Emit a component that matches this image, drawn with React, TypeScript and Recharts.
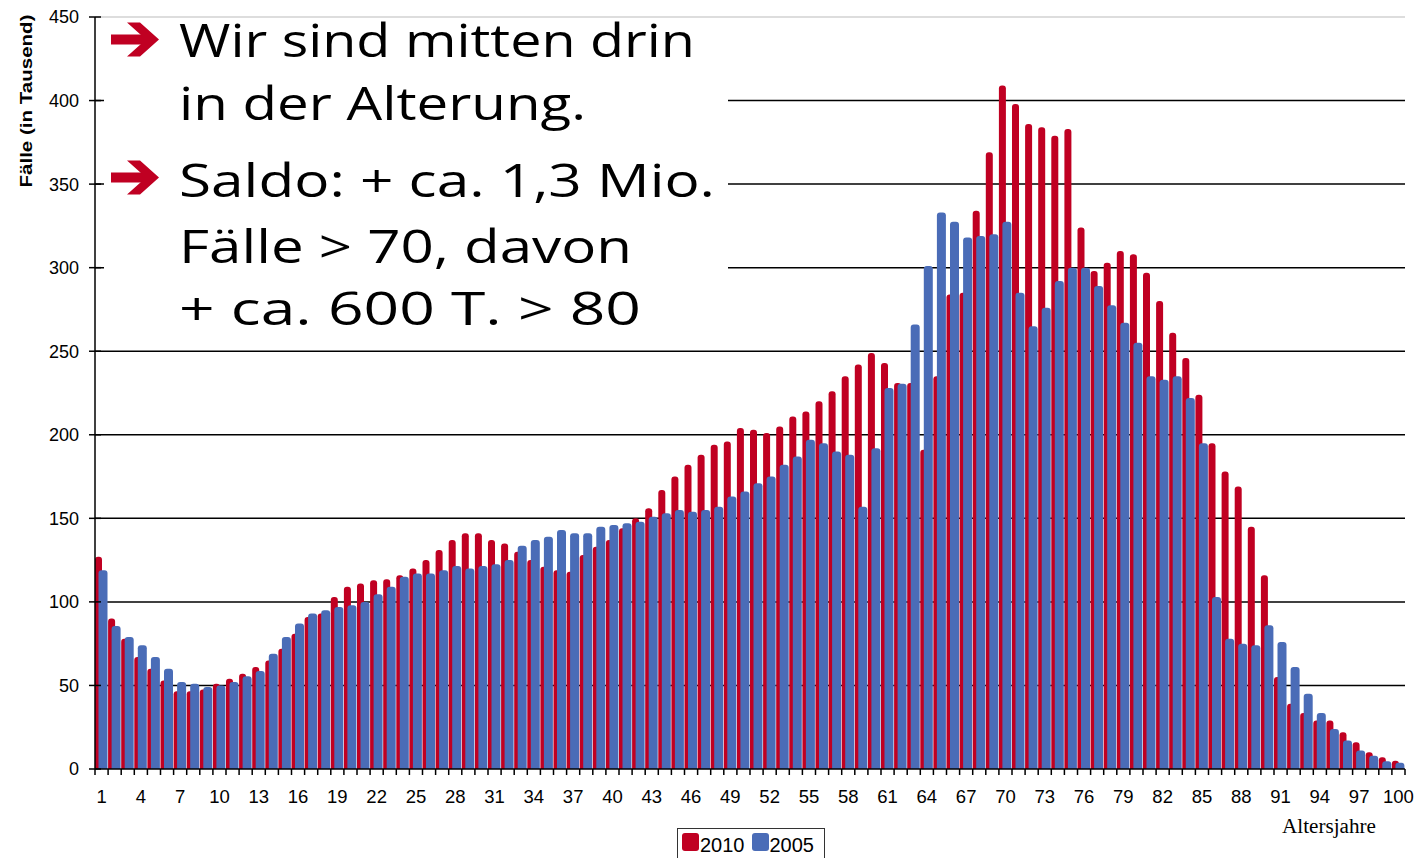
import { BarChart, Bar, XAxis, YAxis, CartesianGrid, ReferenceLine, Legend } from "recharts";

// Altersjahre 1..100
const ages = [
  1, 2, 3, 4, 5, 6, 7, 8, 9, 10,
  11, 12, 13, 14, 15, 16, 17, 18, 19, 20,
  21, 22, 23, 24, 25, 26, 27, 28, 29, 30,
  31, 32, 33, 34, 35, 36, 37, 38, 39, 40,
  41, 42, 43, 44, 45, 46, 47, 48, 49, 50,
  51, 52, 53, 54, 55, 56, 57, 58, 59, 60,
  61, 62, 63, 64, 65, 66, 67, 68, 69, 70,
  71, 72, 73, 74, 75, 76, 77, 78, 79, 80,
  81, 82, 83, 84, 85, 86, 87, 88, 89, 90,
  91, 92, 93, 94, 95, 96, 97, 98, 99, 100,
];

// Fälle in Tausend, 2010
const cases2010 = [
  127, 90, 78, 67, 60, 53, 46.5, 46.5, 47.5, 51,
  54, 57, 61, 65, 72, 81, 91, 93, 103, 109,
  111, 113, 113.5, 116, 120, 125, 131, 137, 141, 141,
  137, 135, 130, 125, 121, 119, 118, 128, 133, 137,
  144, 150, 156, 167, 175, 182, 188, 194, 196, 204,
  203, 201, 205, 211, 214, 220, 226, 235, 242, 249,
  243, 231, 231, 191, 235, 284, 285, 334, 369, 409,
  398, 386, 384, 379, 383, 324, 298, 303, 310, 308,
  297, 280, 261, 246, 224, 195, 178, 169, 145, 116,
  55, 39, 33.5, 29, 29, 22, 16, 10, 7, 5,
];

// Fälle in Tausend, 2005
const cases2005 = [
  119, 85.6, 79, 74, 67, 60, 52, 51, 49, 50,
  52, 55.5, 58.6, 69, 79, 87, 93, 95, 97, 98,
  100, 104.5, 109, 115, 117, 117, 119, 121.5, 120, 121.5,
  122.5, 125, 133.6, 137, 139, 143, 141, 141, 145, 146,
  147, 148, 151, 153, 155, 154, 155, 157, 163, 166,
  171, 175, 182, 187, 197, 195, 190, 188, 157, 192,
  228, 230.5, 266, 301, 333, 327.5, 318, 319, 320, 327.5,
  285, 265, 276, 292, 300, 300, 289, 277.5, 267, 255,
  235, 233, 235, 222, 195, 103, 78, 75, 74, 86,
  76, 61, 45, 33.5, 24, 17, 11, 8, 4.6, 3.8,
];

const yTicks = [0, 50, 100, 150, 200, 250, 300, 350, 400, 450];
const gridValues = [50, 100, 150, 200, 250, 300, 350, 400];
const legendOrder = ["2010", "2005"];

const headline = [
  { text: "Wir sind mitten drin", y: 57, len: 516 },
  { text: "in der Alterung.", y: 120, len: 407 },
  { text: "Saldo: + ca. 1,3 Mio.", y: 197, len: 536 },
  { text: "Fälle > 70, davon", y: 263, len: 453 },
  { text: "+ ca. 600 T. > 80", y: 325, len: 462 },
];
const arrowCenters = [39.5, 177.5];

const data = ages.map((age, i) => ({
  age,
  y2010: cases2010[i],
  y2005: cases2005[i],
}));

const W = 1414;
const H = 858;
const PLOT_LEFT = 95;
const PLOT_RIGHT = 1405;
const BAND = (PLOT_RIGHT - PLOT_LEFT) / ages.length;
const SANS = "'Liberation Sans', Arial, sans-serif";

function XTick(props: any) {
  const { x, y, payload, index } = props;
  const last = index === ages.length - 1;
  return (
    <g>
      <line x1={x - BAND / 2} x2={x - BAND / 2} y1={y - 6} y2={y} stroke="#000" strokeWidth={1.5} />
      {last && <line x1={x + BAND / 2} x2={x + BAND / 2} y1={y - 6} y2={y} stroke="#000" strokeWidth={1.5} />}
      {index % 3 === 0 && (
        <text x={x} y={y + 28} textAnchor="middle" fontSize={18.5} fontFamily={SANS} fill="#000">
          {payload.value}
        </text>
      )}
    </g>
  );
}

function YTick(props: any) {
  const { x, y, payload } = props;
  const ax = x + 6;
  return (
    <g>
      <line x1={ax - 6} x2={ax + 6} y1={y} y2={y} stroke="#000" strokeWidth={1.5} />
      <text x={ax - 16} y={y} dy="0.36em" textAnchor="end" fontSize={18} fontFamily={SANS} fill="#000">
        {payload.value}
      </text>
    </g>
  );
}

function LegendBox(props: any) {
  const items = [...(props.payload || [])].sort(
    (a: any, b: any) => legendOrder.indexOf(a.value) - legendOrder.indexOf(b.value)
  );
  return (
    <div
      style={{
        border: "1px solid #333",
        height: 40,
        boxSizing: "border-box",
        display: "flex",
        alignItems: "flex-start",
        padding: "4px 0 0 4px",
        fontFamily: SANS,
        fontSize: 20,
        lineHeight: "20px",
        background: "#fff",
      }}
    >
      {items.map((it: any) => (
        <div key={it.value} style={{ display: "flex", alignItems: "flex-start", marginRight: 7 }}>
          <span style={{ width: 17, height: 18, background: it.color, borderRadius: 3, display: "inline-block" }} />
          <span style={{ marginLeft: 1, marginTop: 2 }}>{it.value}</span>
        </div>
      ))}
    </div>
  );
}

function Arrow({ cy }: { cy: number }) {
  return (
    <g fill="#c00022">
      <rect x={111} y={cy - 5} width={35} height={10} />
      <polygon
        points={`127,${cy - 17} 140,${cy - 17} 159,${cy} 140,${cy + 17} 127,${cy + 17} 146,${cy}`}
      />
    </g>
  );
}

export default function App() {
  return (
    <div style={{ position: "absolute", left: 0, top: 0, width: W, height: H, background: "#fff" }}>
      <BarChart
        width={W}
        height={H}
        data={data}
        margin={{ top: 17, right: W - PLOT_RIGHT, bottom: 0, left: 0 }}
        barGap={-3.5}
      >
        <CartesianGrid vertical={false} horizontalValues={gridValues} stroke="#000" strokeWidth={1.5} />
        <ReferenceLine y={450} stroke="#d2d2d2" strokeWidth={1.5} />
        <XAxis
          dataKey="age"
          interval={0}
          height={89}
          tickSize={6}
          tickMargin={0}
          tickLine={false}
          axisLine={{ stroke: "#000", strokeWidth: 1.5 }}
          tick={(p: any) => <XTick {...p} />}
        />
        <YAxis
          width={PLOT_LEFT}
          domain={[0, 450]}
          ticks={yTicks}
          tickSize={6}
          tickMargin={0}
          tickLine={false}
          axisLine={{ stroke: "#000", strokeWidth: 1.5 }}
          tick={(p: any) => <YTick {...p} />}
        />
        <Legend
          layout="horizontal"
          verticalAlign="middle"
          align="center"
          content={(p: any) => <LegendBox {...p} />}
          wrapperStyle={{ left: 677, top: 828, width: 148 }}
        />
        <Bar dataKey="y2010" name="2010" fill="#c00022" barSize={7} radius={[3, 3, 0, 0]} isAnimationActive={false} />
        <Bar dataKey="y2005" name="2005" fill="#4a6cb7" barSize={9} radius={[3, 3, 0, 0]} isAnimationActive={false} />
      </BarChart>

      <svg
        width={W}
        height={H}
        style={{ position: "absolute", left: 0, top: 0, pointerEvents: "none" }}
      >
        <rect x={104} y={19} width={624} height={322} fill="#fff" />
        {arrowCenters.map((cy) => (
          <Arrow key={cy} cy={cy} />
        ))}
        {headline.map((l) => (
          <text
            key={l.text}
            x={179}
            y={l.y}
            fontSize={46}
            fontFamily="'Open Sans', 'Noto Sans', sans-serif"
            fill="#000"
            textLength={l.len}
            lengthAdjust="spacingAndGlyphs"
          >
            {l.text}
          </text>
        ))}
        <text
          transform="translate(32,101) rotate(-90)"
          textAnchor="middle"
          fontSize={16}
          fontWeight="bold"
          fontFamily={SANS}
          textLength={173}
          lengthAdjust="spacingAndGlyphs"
          fill="#000"
        >
          Fälle (in Tausend)
        </text>
        <text
          x={1282}
          y={833}
          fontSize={20}
          fontFamily="'Liberation Serif', 'Times New Roman', serif"
          textLength={94}
          lengthAdjust="spacingAndGlyphs"
          fill="#000"
        >
          Altersjahre
        </text>
      </svg>
    </div>
  );
}
